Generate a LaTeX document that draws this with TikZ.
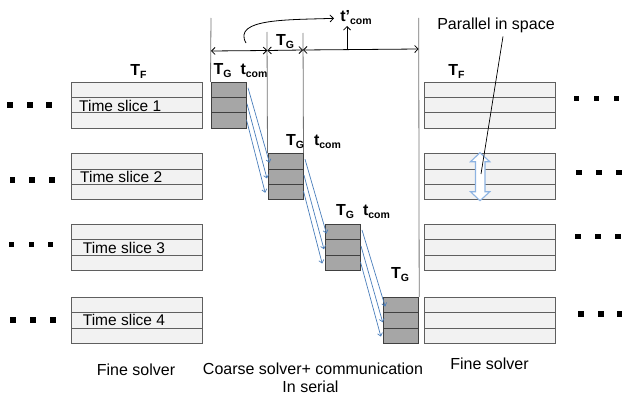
\documentclass[tikz,border=0pt]{standalone}
\usepackage{fontspec}
\setmainfont{Liberation Sans}
\usetikzlibrary{arrows.meta,calc}
\definecolor{finefill}{RGB}{242,242,242}
\definecolor{fineline}{RGB}{95,95,95}
\definecolor{coarsefill}{RGB}{166,166,166}
\definecolor{coarseline}{RGB}{64,64,64}
\definecolor{arrblue}{RGB}{74,126,187}
\definecolor{dblblue}{RGB}{141,179,226}
\newcommand{\sublab}[2]{\fontsize{16}{18}\selectfont\bfseries #1\raisebox{-3pt}{\fontsize{10.5}{12}\selectfont #2}}
\begin{document}
\begin{tikzpicture}[x=1pt,y=-1pt,
  fine/.style={draw=fineline,fill=finefill,line width=1pt,minimum width=131pt,minimum height=15.33pt,inner sep=0pt},
  coarse/.style={draw=coarseline,fill=coarsefill,line width=1pt,minimum width=35pt,minimum height=15.33pt,inner sep=0pt},
  dotsq/.style={fill=black,minimum size=5.5pt,inner sep=0pt},
  lab/.style={inner sep=0pt,anchor=base},
  txt/.style={inner sep=0pt,anchor=base,font=\fontsize{16}{18}\selectfont},
  slice/.style={inner sep=0pt,anchor=base west,font=\fontsize{15.5}{18}\selectfont},
  vline/.style={draw=black!55,line width=0.8pt},
  dim/.style={draw=black,line width=0.8pt,{Straight Barb[length=3.5pt,width=7pt]}-{Straight Barb[length=3.5pt,width=7pt]}},
  blk/.style={draw=black,line width=0.8pt,-{Straight Barb[length=3.5pt,width=7pt]}},
  blue/.style={draw=arrblue,line width=0.7pt,-{Straight Barb[length=3pt,width=5pt]}}
]
\useasboundingbox (0,0) rectangle (622,396);

% boxes
\foreach \k/\t/\cx in {1/82.3/228.5, 2/153.7/285.5, 3/224.5/342.5, 4/297.5/401.2} {
  \foreach \j in {1,2,3} {
    \node[fine] (L\k-\j) at (137, \t+15.33*\j-7.67) {};
    \node[fine] (R\k-\j) at (490.25, \t+15.33*\j-7.67) {};
    \node[coarse] (C\k-\j) at (\cx, \t+15.33*\j-7.67) {};
  }
}

% time slice labels
\node[slice] (s1) at (79,111.5) {Time slice 1};
\node[slice] (s2) at (80,182.8) {Time slice 2};
\node[slice] (s3) at (82.7,253.3) {Time slice 3};
\node[slice] (s4) at (82.7,325.5) {Time slice 4};

% dots
\foreach \i/\x/\y in {a/10/105, b/30/105, c/49/105,
                      d/12.7/180, e/32/180, f/52/180,
                      g/11.7/244.3, h/31.7/244.3, i/50.7/244.3,
                      j/13/320, k/33/320, l/53/320}
  \node[dotsq] (dl\i) at (\x,\y) {};
\foreach \i/\x/\y in {a/576.7/98.3, b/596.7/98.3, c/616.7/98.3,
                      d/579/172.7, e/599/172.7, f/619/172.7,
                      g/578/236.7, h/598/236.7, i/618/236.7,
                      j/581/314, k/601/314, l/620/314}
  \node[dotsq] (dr\i) at (\x,\y) {};

% vertical lines
\coordinate (v1) at (211,18);
\coordinate (v2) at (267,32);
\coordinate (v3) at (303,33);
\coordinate (v4) at (418.7,18);
\draw[vline] (v1) -- (C1-1.north west);
\draw[vline] (v2) -- (C2-1.north west);
\draw[vline] (v3) -- (C2-1.north east);
\draw[vline] (v4) -- (C4-1.north east);

% dimension arrows
\coordinate (d1) at (211,51);
\coordinate (d2) at (267.3,50.5);
\coordinate (d3) at (303,50);
\coordinate (d4) at (418.7,49);
\draw[dim] (d1) -- (d2);
\draw[dim] (d2) -- (d3);
\draw[dim] (d3) -- (d4);

% labels
\node[lab] (tfl) at (138.5,76) {\sublab{T}{F}};
\node[lab] (tfr) at (456.5,76) {\sublab{T}{F}};
\node[lab] (tgtop) at (285,46) {\sublab{T}{G}};
\node[lab] (tg1) at (222.5,75) {\sublab{T}{G}};
\node[lab] (tc1) at (254,75) {\sublab{t}{com}};
\node[lab] (tg2) at (295,146) {\sublab{T}{G}};
\node[lab] (tc2) at (327.5,146) {\sublab{t}{com}};
\node[lab] (tg3) at (345,215) {\sublab{T}{G}};
\node[lab] (tc3) at (376.5,215) {\sublab{t}{com}};
\node[lab] (tg4) at (400,278.3) {\sublab{T}{G}};
\node[lab] (tp) at (356,21.7) {\sublab{t’}{com}};

% t'com arrows
\coordinate (cs) at (246,43);
\coordinate (ce) at (334,18.3);
\draw[blk] (cs) .. controls (232,18) and (290,20) .. (ce);
\coordinate (up) at (347,49.5);
\coordinate (upe) at (347,26);
\draw[blk] (up) -- (upe);

% blue arrows between coarse boxes
\foreach \a/\b in {1/2, 2/3, 3/4} {
  \draw[blue] ($(C\a-1.north east)+(1.5,6)$) -- ($(C\b-1.north west)+(2,9.6)$);
  \draw[blue] ($(C\a-1.north east)+(0.5,22)$) -- ($(C\b-1.north west)+(-0.5,25.3)$);
  \draw[blue] ($(C\a-1.north east)+(0,38)$) -- ($(C\b-1.north west)+(-2.3,39.6)$);
}

% parallel in space
\node[txt] (par) at (496,29.5) {Parallel in space};
\filldraw[draw=dblblue,fill=white,line width=1.1pt]
  (480,152.7) -- (489.8,161.7) -- (485,161.7) -- (485,191.7) -- (489.8,191.7)
  -- (480,200.7) -- (470.5,191.7) -- (475.5,191.7) -- (475.5,161.7) -- (470.5,161.7) -- cycle;
\coordinate (ps) at (503,36.5);
\coordinate (pe) at (481,174);
\draw[draw=black,line width=0.7pt] (ps) -- (pe);

% bottom captions
\node[txt] (fs1) at (136,375.7) {Fine solver};
\node[txt] (cs1) at (313,374) {Coarse solver+ communication};
\node[txt] (cs2) at (310.5,392.7) {In serial};
\node[txt] (fs2) at (489.5,369) {Fine solver};
\end{tikzpicture}
\end{document}
